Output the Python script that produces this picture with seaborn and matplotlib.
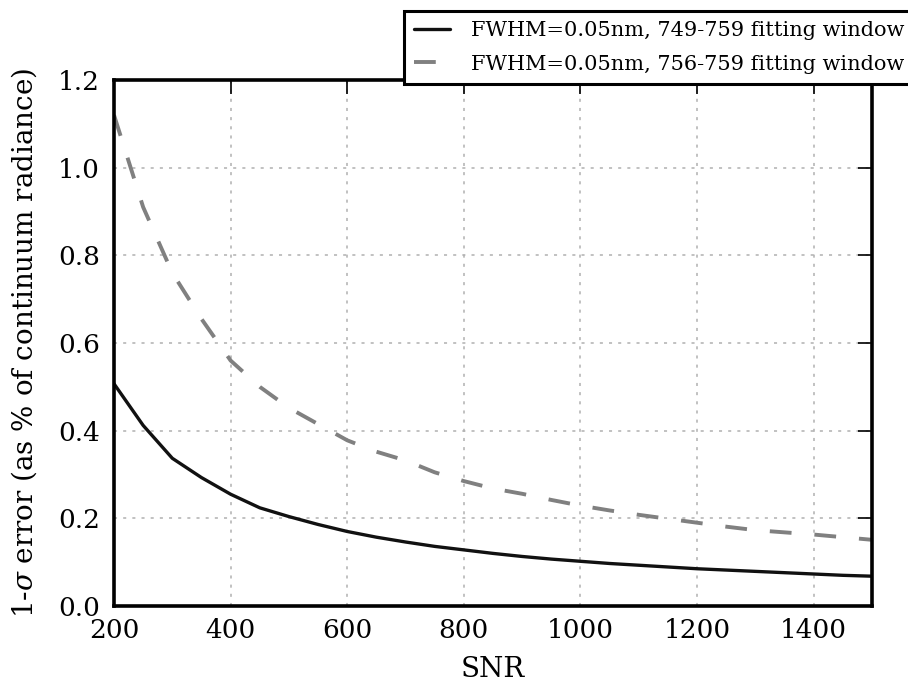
import matplotlib
matplotlib.use("Agg")
import matplotlib.pyplot as plt
import seaborn as sns
import pandas as pd

snr = [200, 250, 300, 350, 400, 450, 500, 550, 600, 650, 700, 750, 800, 850,
       900, 950, 1000, 1050, 1100, 1150, 1200, 1250, 1300, 1350, 1400, 1450, 1500]
err_749_759 = [0.507, 0.412, 0.337, 0.293, 0.255, 0.224, 0.204, 0.186, 0.170, 0.157,
               0.146, 0.136, 0.128, 0.120, 0.113, 0.107, 0.102, 0.097, 0.093, 0.089,
               0.085, 0.082, 0.079, 0.076, 0.073, 0.070, 0.068]
err_756_759 = [1.120, 0.910, 0.760, 0.655, 0.560, 0.500, 0.452, 0.415, 0.378, 0.352,
               0.332, 0.305, 0.285, 0.268, 0.256, 0.242, 0.229, 0.218, 0.208, 0.199,
               0.190, 0.181, 0.173, 0.168, 0.163, 0.157, 0.151]
labels = ["FWHM=0.05nm, 749-759 fitting window", "FWHM=0.05nm, 756-759 fitting window"]
xticks = [200, 400, 600, 800, 1000, 1200, 1400]
yticks = [0.0, 0.2, 0.4, 0.6, 0.8, 1.0, 1.2]

sns.set_style("white")
plt.rcParams["font.family"] = ["DejaVu Serif"]
plt.rcParams["mathtext.fontset"] = "dejavuserif"
plt.rcParams["text.color"] = "black"
plt.rcParams["axes.labelcolor"] = "black"

df1 = pd.DataFrame({"SNR": snr, "err": err_749_759})
df2 = pd.DataFrame({"SNR": snr, "err": err_756_759})

fig = plt.figure(figsize=(9.08, 6.85), dpi=100)
ax = fig.add_axes([114 / 908, 79 / 685, (872 - 114) / 908, (606 - 80) / 685])

sns.lineplot(data=df1, x="SNR", y="err", ax=ax, color="#111111", lw=2.4, label=labels[0])
sns.lineplot(data=df2, x="SNR", y="err", ax=ax, color="#808080", lw=2.8, label=labels[1])
ax.lines[1].set_dashes((5.6, 5.9))
ax.lines[1].set_dash_capstyle("butt")

ax.set_xlim(200, 1500)
ax.set_ylim(0, 1.2)
ax.set_xticks(xticks)
ax.set_yticks(yticks)
ax.set_xticklabels([str(t) for t in xticks])
ax.set_yticklabels([f"{t:.1f}" for t in yticks])
ax.tick_params(direction="in", top=True, right=True, length=10, width=1.2,
               labelsize=19, colors="black")
ax.tick_params(axis="x", pad=9)
ax.tick_params(axis="y", pad=10)
ax.grid(True, color="#b0b0b0", linestyle=(0, (2, 4)), lw=1.1)
for s in ax.spines.values():
    s.set_linewidth(2.6)
    s.set_color("black")
    s.set_visible(True)

ax.set_xlabel("SNR", fontsize=20, labelpad=9, color="black")
ax.set_ylabel("1-$\\sigma$ error (as % of continuum radiance)", fontsize=20, labelpad=14,
              color="black")

leg = ax.legend(loc="lower left", bbox_to_anchor=(404 / 908, (685 - 84) / 685),
                bbox_transform=fig.transFigure, fontsize=15, frameon=True,
                fancybox=False, handlelength=1.7, handletextpad=1.0, borderpad=0.5,
                labelspacing=0.7, borderaxespad=0)
leg.get_frame().set_edgecolor("black")
leg.get_frame().set_linewidth(2.2)
leg.get_frame().set_alpha(1)
for t in leg.get_texts():
    t.set_color("black")

fig.savefig("out.png", dpi=100)
